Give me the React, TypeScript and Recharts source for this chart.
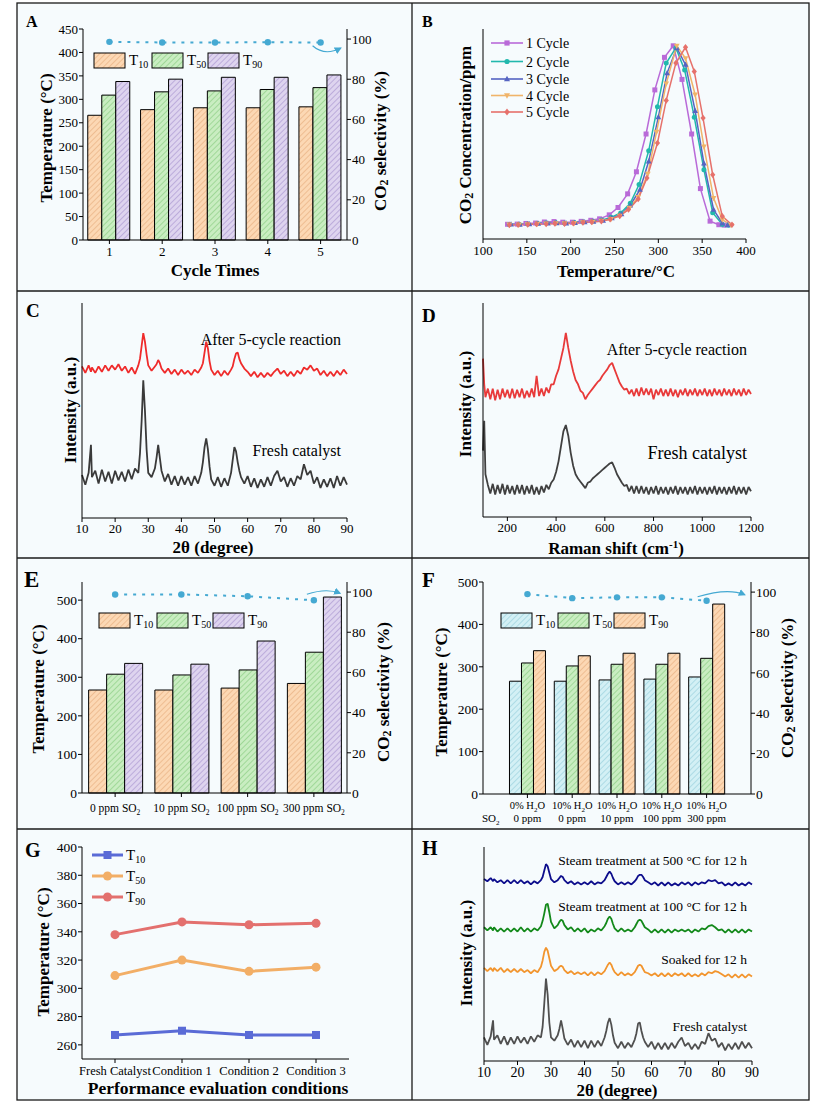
import React from "react";
import { Bar, ComposedChart, Line, LineChart, XAxis, YAxis } from "recharts";

const W = 828;
const H = 1105;
const SERIF = "'Liberation Serif', 'Times New Roman', 'DejaVu Serif', serif";
const INK = "#000";
const SEL = "#45a9d2";
const BG = "#f6fbfd";

// ---------- A: cycle stability ----------
const cycles = ["1", "2", "3", "4", "5"];
const aT10 = [266, 278, 282, 282, 284];
const aT50 = [309, 316, 318, 321, 325];
const aT90 = [338, 343, 347, 347, 352];
const aSel = [98.6, 98.3, 98.3, 98.4, 98.3];
const aTempTicks = [0, 50, 100, 150, 200, 250, 300, 350, 400, 450];
const selTicks = [0, 20, 40, 60, 80, 100];
const tLabels = ["10", "50", "90"];

// ---------- B: CO2 profiles ----------
const bTicks = [100, 150, 200, 250, 300, 350, 400];
const b1T = [128, 139, 149, 160, 170, 181, 191, 202, 212, 223, 233, 244, 254, 265, 275, 286, 296, 307, 317, 327, 338, 348, 359, 369, 375];
const b1V = [7.0, 7.1, 7.4, 7.6, 8.1, 8.3, 8.0, 8.0, 8.4, 8.9, 9.6, 11.5, 15.0, 21.5, 32.0, 50.0, 71.0, 86.5, 92.0, 76.0, 50.0, 24.0, 8.5, 6.8, 6.6];
const b2T = [130, 141, 151, 162, 172, 183, 193, 204, 214, 225, 235, 246, 257, 268, 278, 289, 299, 309, 320, 330, 341, 352, 362, 373, 380];
const b2V = [6.9, 7.0, 7.2, 7.4, 7.6, 7.7, 7.6, 7.8, 8.1, 8.5, 9.0, 10.3, 12.4, 17.0, 25.9, 42.0, 63.0, 83.8, 91.0, 80.5, 58.0, 33.0, 12.5, 6.9, 6.6];
const b3T = [132, 142, 153, 163, 174, 184, 195, 205, 216, 226, 237, 247, 258, 268, 279, 289, 300, 310, 321, 331, 342, 352, 363, 373, 379];
const b3V = [7.0, 6.9, 7.1, 7.3, 7.5, 7.6, 7.5, 7.7, 8.0, 8.3, 8.8, 9.9, 11.8, 16.0, 23.5, 37.0, 58.0, 79.0, 91.0, 83.0, 61.0, 36.0, 14.0, 7.5, 6.6];
const b4T = [130, 141, 151, 162, 172, 183, 193, 204, 214, 225, 235, 246, 256, 267, 277, 288, 298, 309, 321, 331, 342, 352, 363, 373, 383];
const b4V = [6.8, 6.9, 7.0, 7.2, 7.3, 7.5, 7.4, 7.6, 7.9, 8.2, 8.6, 9.5, 11.0, 14.8, 20.0, 31.0, 51.0, 74.0, 92.0, 86.0, 68.7, 44.0, 19.5, 9.2, 6.6];
const b5T = [130, 140, 151, 161, 172, 182, 193, 203, 214, 224, 235, 245, 256, 266, 277, 287, 299, 309, 320, 331, 341, 351, 362, 373, 384];
const b5V = [6.7, 6.8, 6.9, 7.1, 7.2, 7.4, 7.3, 7.5, 7.8, 8.1, 8.5, 9.4, 11.0, 14.0, 19.0, 29.0, 45.7, 66.0, 83.8, 91.3, 79.8, 57.6, 30.6, 10.8, 6.8];
const bNames = ["1 Cycle", "2 Cycle", "3 Cycle", "4 Cycle", "5 Cycle"];

// ---------- C / H: XRD ----------
const xrdTicks = [10, 20, 30, 40, 50, 60, 70, 80, 90];
const xrdAngles = [
  10, 11, 12, 12.7, 13,
  14, 15, 16, 17, 18, 19, 20, 21, 22, 23, 24, 25, 26, 27,
  27.5, 28, 28.5, 29, 29.5,
  30, 31, 32,
  32.5, 33, 33.5,
  34, 35, 36, 37, 38, 39, 40, 41, 42, 43, 44, 45, 46,
  46.5, 47, 47.5, 48, 48.5,
  49, 50, 51, 52, 53, 54, 55,
  55.5, 56, 56.5, 57, 57.5,
  58, 59, 60, 61, 62, 63, 64, 65, 66, 67, 68, 69, 70, 71, 72, 73, 74, 75, 76, 77, 78, 79, 80, 81, 82, 83, 84, 85, 86, 87, 88, 89, 90,
];
const cAfter = [
  70.5, 67.5, 71, 68, 70,
  67.5, 70.5, 68, 71, 68.5, 71, 69, 71.5, 68.5, 70.5, 67.5, 70, 67, 71,
  74, 80, 86, 82, 76,
  71, 68.5, 70.5,
  71.5, 73.5, 72,
  69.5, 67.5, 69.5, 67, 69, 66.5, 69, 67, 68.5, 66.5, 69, 67.5, 70,
  72, 77, 82, 79, 73,
  69, 66.5, 68.5, 66, 68.5, 66.5, 69,
  70.5, 74, 76.5, 77, 74,
  72, 69.5, 68, 66, 68, 65.5, 67.5, 65.5, 67.5, 66, 68, 69.5, 67, 68.5, 66, 68, 66, 68.5, 67, 70, 69, 71, 68.5, 69.5, 66.5, 68.5, 66, 68, 66, 68.5, 66.5, 69, 67,
];
const cFresh = [
  20, 15.5, 21, 34, 19,
  22, 16, 22.5, 17, 21.5, 16, 22, 17.5, 21.5, 17, 22.5, 18, 23, 21,
  30, 45, 64, 50, 32,
  21, 19, 23,
  28, 34, 28,
  22, 17, 20.5, 15.5, 19.5, 15, 19.5, 15.5, 19, 15, 19.5, 16, 21,
  26, 33, 37, 32, 24,
  18, 15, 19, 14.5, 18.5, 15, 21,
  27, 33, 31, 26, 22,
  19, 16, 19.5, 14.5, 18.5, 14, 18, 14.5, 19, 15, 19.5, 22, 17, 19, 14.5, 18.5, 15, 19.5, 18, 25, 20, 22, 16, 19, 14, 18, 14.5, 18.5, 14, 19.5, 15, 19, 15.5,
];
const hSteam500 = [
  85, 84, 85.5, 84, 85,
  83.5, 84.5, 83, 84.5, 83, 84.5, 83, 84.5, 83, 84, 82.5, 84, 83, 84.5,
  86, 89, 92, 91, 88,
  85, 83.5, 84.5,
  85.5, 86.5, 86,
  84.5, 83, 84, 82.5, 83.5, 82.5, 83.5, 82.5, 84, 82.5, 83.5, 83, 84.5,
  86, 87.5, 88.5, 87.5, 85.5,
  84, 82.5, 83.5, 82.5, 83.5, 82.5, 84,
  85, 86.5, 87, 87, 86,
  84.5, 83.5, 82.5, 83.5, 82, 83.5, 82, 83.5, 82, 83, 82, 83.5, 82.5, 83.5, 82, 83.5, 82.5, 83.5, 83, 84.5, 84, 84.5, 83, 83.5, 82, 83, 82, 83.5, 82, 83, 82, 83.5, 82.5,
];
const hSteam100 = [
  62.5, 61, 62.5, 61, 62.5,
  60.5, 62, 60.5, 62, 60.5, 62, 60.5, 62.5, 60.5, 62, 60.5, 62, 61, 63,
  65.5, 69, 73, 73.5, 69.5,
  65, 62, 63.5,
  65, 66, 65.5,
  63.5, 61.5, 62.5, 60.5, 62, 60.5, 62, 60, 61.5, 60.5, 62, 61, 63,
  64.5, 66.5, 67.5, 66.5, 64,
  62, 60.5, 62, 60.5, 61.5, 60.5, 62.5,
  64, 65.5, 66, 65.5, 64,
  62.5, 61.5, 60, 61.5, 60, 61.5, 60, 61.5, 60, 61.5, 60.5, 61.5, 60.5, 61.5, 60, 61.5, 60.5, 62, 61.5, 63, 63.5, 62.5, 61, 61.5, 60, 61.5, 60, 61.5, 60, 61.5, 60, 61.5, 60.5,
];
const hSoaked = [
  43.5, 42, 43.5, 42, 43.5,
  42, 43.5, 41.5, 43, 41.5, 43, 41.5, 43, 41.5, 42.5, 41, 42.5, 41.5, 44,
  47, 51, 53, 51.5, 48,
  44.5, 42, 43,
  44, 44.5, 44,
  42.5, 41, 42, 40.5, 41.5, 40.5, 41.5, 40, 41.5, 40, 41.5, 40.5, 42,
  43.5, 45, 46, 45, 43,
  41.5, 40, 41.5, 40, 41, 40, 41.5,
  43, 44.5, 45, 44.5, 43,
  41.5, 41, 40, 41, 39.5, 41, 39.5, 41, 39.5, 41, 40, 41, 39.5, 41, 39.5, 40.5, 39.5, 41, 40, 41.5, 41, 42, 41.5, 40.5, 39.5, 40.5, 39, 40.5, 39, 40.5, 39, 40.5, 39.5,
];
const hFresh = [
  11, 7.5, 11.5, 19, 10,
  12, 8, 11.5, 7.5, 11, 8, 11.5, 8.5, 11, 8, 11.5, 9, 12, 11,
  16, 27, 38.5, 31, 18,
  11, 9.5, 12,
  15, 19, 15,
  10.5, 7.5, 10, 6.5, 9.5, 6.5, 9.5, 6, 9.5, 6.5, 9.5, 7, 11,
  14, 18, 20, 17, 12,
  8.5, 6, 9, 6, 8.5, 6.5, 10,
  13, 17.5, 18, 14, 11,
  9, 6.5, 9, 5.5, 8.5, 5.5, 8.5, 5.5, 8.5, 6, 9, 11, 7, 8.5, 5.5, 8, 5.5, 9, 8, 13, 9.5, 10.5, 6.5, 8.5, 5, 8, 5.5, 8.5, 5.5, 9, 6, 8.5, 6,
];
const hNames = ["Steam treatment at 500 °C for 12 h", "Steam treatment at 100 °C for 12 h", "Soaked for 12 h", "Fresh catalyst"];

// ---------- D: Raman ----------
const ramanTicks = [200, 400, 600, 800, 1000, 1200];
const ramanShift = [
  100, 105, 110,
  120, 130, 140, 150, 160, 170, 180, 190, 200,
  210, 220, 230, 240, 250, 260, 270, 280, 290, 300,
  310, 320, 330, 340, 350, 360, 370, 380, 390, 400,
  410, 420, 430, 440, 450, 460, 470, 480, 490, 500,
  510, 520, 530, 540, 550, 560, 570, 580, 590, 600,
  610, 620, 630, 640, 650, 660, 670, 680, 690, 700,
  710, 720, 730, 740, 750, 760, 770, 780, 790, 800,
  810, 820, 830, 840, 850, 860, 870, 880, 890, 900,
  910, 920, 930, 940, 950, 960, 970, 980, 990, 1000,
  1010, 1020, 1030, 1040, 1050, 1060, 1070, 1080, 1090, 1100,
  1110, 1120, 1130, 1140, 1150, 1160, 1170, 1180, 1190, 1200,
];
const dAfter = [
  74, 62, 56,
  60, 55, 60, 54.5, 59.5, 55, 60, 56, 59.5,
  55.5, 60, 55.5, 59.5, 56, 60, 55.5, 59, 56, 60,
  56, 66, 56.5, 60, 56.5, 60.5, 58, 62, 62, 66,
  69, 74, 79, 86, 79, 73, 68, 64, 62, 59,
  58, 55, 57, 58.5, 60, 61.5, 63, 64, 66, 67.5,
  69, 71, 72, 69, 66, 63, 61, 59.5, 60, 57.5,
  59.5, 56.5, 60, 56.5, 60.5, 57, 60, 57, 60, 55,
  59.5, 57, 60, 56.5, 59.5, 56.5, 60, 56.5, 59.5, 56,
  59.5, 57, 60, 56.5, 59.5, 57, 60, 56.5, 59.5, 57,
  60, 56.5, 59.5, 56.5, 60, 57, 59.5, 56.5, 60, 57,
  59.5, 56.5, 60, 57, 59.5, 56.5, 60, 57, 59.5, 57.5,
];
const dFresh = [
  31, 45, 20,
  15, 11, 15.5, 10.5, 15, 11, 15.5, 10.5, 15,
  11, 14.5, 10.5, 15, 11, 15, 10.5, 14.5, 11, 15,
  10.5, 14, 10.5, 14.5, 11.5, 15, 13, 16, 17.5, 21,
  26, 33, 40, 43, 38, 30, 24, 20, 18, 16.5,
  15, 13.5, 16, 16.5, 18, 19, 20, 21, 22, 23,
  24, 25, 25.5, 23, 20, 18, 16, 14.5, 15, 12,
  14.5, 11, 14.5, 11, 14.5, 11, 14, 10.5, 14, 11,
  14.5, 10.5, 14, 11, 14, 10.5, 14, 11, 14.5, 10.5,
  14, 11, 14, 10.5, 14, 11, 14.5, 10.5, 14, 11,
  14, 10.5, 14, 11, 14.5, 10.5, 14, 11, 14, 10.5,
  14, 11, 14.5, 10.5, 14, 11, 14, 10.5, 14, 12,
];

// ---------- E: SO2 ----------
const eLevels = ["0 ppm", "10 ppm", "100 ppm", "300 ppm"];
const eT10 = [267, 267, 272, 284];
const eT50 = [308, 306, 319, 365];
const eT90 = [336, 334, 394, 508];
const eSel = [98.8, 98.8, 97.9, 95.9];
const eTempTicks = [0, 100, 200, 300, 400, 500];

// ---------- F: H2O + SO2 ----------
const fWater = ["0%", "10%", "10%", "10%", "10%"];
const fSO2 = ["0 ppm", "0 ppm", "10 ppm", "100 ppm", "300 ppm"];
const fT10 = [266, 266, 269, 271, 276];
const fT50 = [309, 302, 306, 306, 320];
const fT90 = [338, 326, 332, 332, 448];
const fSel = [99.0, 97.0, 97.4, 97.4, 95.7];

// ---------- G: conditions ----------
const gConds = ["Fresh Catalyst", "Condition 1", "Condition 2", "Condition 3"];
const gT10 = [267, 270, 267, 267];
const gT50 = [309, 320, 312, 315];
const gT90 = [338, 347, 345, 346];
const gTicks = [260, 280, 300, 320, 340, 360, 380, 400];

// ---------- helpers ----------
type Rect = { l: number; r: number; t: number; b: number };
const mg = (p: Rect, lw: number, rw: number, bh: number) => ({
  top: p.t,
  left: p.l - lw,
  right: W - p.r - rw,
  bottom: H - p.b - bh,
});
const tk = { fill: INK, fontSize: 13, fontFamily: SERIF };
const ax = { stroke: INK, strokeWidth: 1 };

function Marker({ shape, cx, cy, color, s }: { shape: string; cx: number; cy: number; color: string; s: number }) {
  if (shape === "square") return <rect x={cx - s} y={cy - s} width={s * 2} height={s * 2} fill={color} />;
  if (shape === "up")
    return <path d={`M${cx},${cy - s * 1.25}L${cx + s * 1.15},${cy + s * 0.85}L${cx - s * 1.15},${cy + s * 0.85}Z`} fill={color} />;
  if (shape === "down")
    return <path d={`M${cx},${cy + s * 1.25}L${cx + s * 1.15},${cy - s * 0.85}L${cx - s * 1.15},${cy - s * 0.85}Z`} fill={color} />;
  if (shape === "diamond")
    return <path d={`M${cx},${cy - s * 1.3}L${cx + s * 1.05},${cy}L${cx},${cy + s * 1.3}L${cx - s * 1.05},${cy}Z`} fill={color} />;
  return <circle cx={cx} cy={cy} r={s} fill={color} />;
}

const dotOf = (shape: string, color: string, s: number) => (p: any) => (
  <g key={`d${p.index}`}>{p.cx != null && <Marker shape={shape} cx={p.cx} cy={p.cy} color={color} s={s} />}</g>
);

// selectivity dots, the last one gets the curved arrow pointing at the right axis
const selDot = (last: number, arc: number[]) => (p: any) => {
  const { cx, cy, index } = p;
  const [sx, sy, qx, qy, ex, ey] = arc;
  return (
    <g key={`s${index}`}>
      <circle cx={cx} cy={cy} r={3.2} fill={SEL} />
      {index === last && (
        <path
          d={`M${cx + sx},${cy + sy}Q${cx + qx},${cy + qy} ${cx + ex},${cy + ey}`}
          fill="none"
          stroke={SEL}
          strokeWidth={1.2}
          markerEnd="url(#selArrow)"
        />
      )}
    </g>
  );
};

const Hatch = ({ id, bg, line }: { id: string; bg: string; line: string }) => (
  <pattern id={id} patternUnits="userSpaceOnUse" width={4} height={4} patternTransform="rotate(45)">
    <rect width={4} height={4} fill={bg} />
    <line x1={0} y1={0} x2={0} y2={4} stroke={line} strokeWidth={1.4} />
  </pattern>
);

const Layer = ({ children }: { children: React.ReactNode }) => (
  <div style={{ position: "absolute", left: 0, top: 0 }}>{children}</div>
);

// ---------- panels ----------
const A_PLOT = { l: 83, r: 347, t: 29, b: 240 };
const aRows = cycles.map((c, i) => ({ cycle: c, t10: aT10[i], t50: aT50[i], t90: aT90[i], sel: aSel[i] }));

function PanelA() {
  return (
    <ComposedChart width={W} height={H} data={aRows} margin={mg(A_PLOT, 40, 40, 30)} barCategoryGap="9%" barGap={0}>
      <XAxis dataKey="cycle" interval={0} tick={tk} tickSize={4} tickMargin={3} tickLine={ax} axisLine={ax} height={30} />
      <XAxis xAxisId="top" orientation="top" dataKey="cycle" height={0} tick={false} tickLine={false} axisLine={ax} />
      <YAxis yAxisId="t" domain={[0, 450]} ticks={aTempTicks} interval={0} width={40} tick={tk} tickSize={4} tickMargin={1} tickLine={ax} axisLine={ax} />
      <YAxis yAxisId="s" orientation="right" domain={[0, 105]} ticks={selTicks} interval={0} width={40} tick={tk} tickSize={4} tickMargin={1} tickLine={ax} axisLine={ax} />
      <Bar yAxisId="t" dataKey="t10" fill="url(#hOr)" stroke={INK} strokeWidth={1} isAnimationActive={false} />
      <Bar yAxisId="t" dataKey="t50" fill="url(#hGr)" stroke={INK} strokeWidth={1} isAnimationActive={false} />
      <Bar yAxisId="t" dataKey="t90" fill="url(#hPu)" stroke={INK} strokeWidth={1} isAnimationActive={false} />
      <Line yAxisId="s" dataKey="sel" stroke={SEL} strokeWidth={2} strokeDasharray="3 6" dot={selDot(4, [-8, 3.3, 4, 14, 20, 5.6])} isAnimationActive={false} />
    </ComposedChart>
  );
}

const B_PLOT = { l: 483, r: 746, t: 29, b: 239 };
const bSeries = [
  { name: bNames[0], color: "#b96ad8", shape: "square", rows: b1T.map((t, i) => ({ t, v: b1V[i] })) },
  { name: bNames[1], color: "#22b8ad", shape: "circle", rows: b2T.map((t, i) => ({ t, v: b2V[i] })) },
  { name: bNames[2], color: "#5664c2", shape: "up", rows: b3T.map((t, i) => ({ t, v: b3V[i] })) },
  { name: bNames[3], color: "#f0b46a", shape: "down", rows: b4T.map((t, i) => ({ t, v: b4V[i] })) },
  { name: bNames[4], color: "#e6716b", shape: "diamond", rows: b5T.map((t, i) => ({ t, v: b5V[i] })) },
];

function PanelB() {
  return (
    <LineChart width={W} height={H} margin={mg(B_PLOT, 10, 0, 30)}>
      <XAxis type="number" dataKey="t" domain={[100, 400]} ticks={bTicks} interval={0} tick={tk} tickSize={4} tickMargin={3} tickLine={ax} axisLine={ax} height={30} />
      <XAxis xAxisId="top" orientation="top" type="number" dataKey="t" domain={[100, 400]} height={0} tick={false} tickLine={false} axisLine={ax} />
      <YAxis domain={[0, 100]} width={10} tick={false} tickLine={false} axisLine={ax} />
      <YAxis yAxisId="frame" orientation="right" domain={[0, 1]} width={0} tick={false} tickLine={false} axisLine={ax} />
      {bSeries.map((s) => (
        <Line key={s.name} data={s.rows} dataKey="v" stroke={s.color} strokeWidth={1.5} dot={dotOf(s.shape, s.color, 2.5)} isAnimationActive={false} />
      ))}
    </LineChart>
  );
}

const C_PLOT = { l: 82, r: 347, t: 303, b: 518 };
const cRows = xrdAngles.map((a, i) => ({ a, after: cAfter[i], fresh: cFresh[i] }));

function PanelC() {
  return (
    <LineChart width={W} height={H} data={cRows} margin={mg(C_PLOT, 10, 0, 30)}>
      <XAxis type="number" dataKey="a" domain={[10, 90]} ticks={xrdTicks} interval={0} tick={tk} tickSize={4} tickMargin={2} tickLine={ax} axisLine={ax} height={30} />
      <XAxis xAxisId="top" orientation="top" type="number" dataKey="a" domain={[10, 90]} height={0} tick={false} tickLine={false} axisLine={ax} />
      <YAxis domain={[0, 100]} width={10} tick={false} tickLine={false} axisLine={ax} />
      <YAxis yAxisId="frame" orientation="right" domain={[0, 1]} width={0} tick={false} tickLine={false} axisLine={ax} />
      <Line dataKey="after" stroke="#ef2b2b" strokeWidth={1.8} strokeLinejoin="bevel" dot={false} isAnimationActive={false} />
      <Line dataKey="fresh" stroke="#3a3a3a" strokeWidth={1.8} strokeLinejoin="bevel" dot={false} isAnimationActive={false} />
    </LineChart>
  );
}

const D_PLOT = { l: 483, r: 751, t: 303, b: 517 };
const dRows = ramanShift.map((w, i) => ({ w, after: dAfter[i], fresh: dFresh[i] }));

function PanelD() {
  return (
    <LineChart width={W} height={H} data={dRows} margin={mg(D_PLOT, 10, 0, 30)}>
      <XAxis type="number" dataKey="w" domain={[100, 1200]} ticks={ramanTicks} interval={0} tick={tk} tickSize={4} tickMargin={2} tickLine={ax} axisLine={ax} height={30} />
      <XAxis xAxisId="top" orientation="top" type="number" dataKey="w" domain={[100, 1200]} height={0} tick={false} tickLine={false} axisLine={ax} />
      <YAxis domain={[0, 100]} width={10} tick={false} tickLine={false} axisLine={ax} />
      <YAxis yAxisId="frame" orientation="right" domain={[0, 1]} width={0} tick={false} tickLine={false} axisLine={ax} />
      <Line dataKey="after" stroke="#e83a3a" strokeWidth={1.8} strokeLinejoin="bevel" dot={false} isAnimationActive={false} />
      <Line dataKey="fresh" stroke="#404040" strokeWidth={1.8} strokeLinejoin="bevel" dot={false} isAnimationActive={false} />
    </LineChart>
  );
}

const E_PLOT = { l: 82, r: 347, t: 582, b: 793 };
const eRows = eLevels.map((c, i) => ({ lvl: c, t10: eT10[i], t50: eT50[i], t90: eT90[i], sel: eSel[i] }));

const ETick = (p: any) => (
  <text x={p.x} y={p.y + 13} textAnchor="middle" fontFamily={SERIF} fontSize={11.5} fill={INK}>
    {p.payload.value} SO<tspan dy={3} fontSize={7.5}>2</tspan>
  </text>
);

function PanelE() {
  return (
    <ComposedChart width={W} height={H} data={eRows} margin={mg(E_PLOT, 40, 40, 30)} barCategoryGap="10%" barGap={0}>
      <XAxis dataKey="lvl" interval={0} tick={<ETick />} tickSize={4} tickMargin={2} tickLine={ax} axisLine={ax} height={30} />
      <XAxis xAxisId="top" orientation="top" dataKey="lvl" height={0} tick={false} tickLine={false} axisLine={ax} />
      <YAxis yAxisId="t" domain={[0, 547]} ticks={eTempTicks} interval={0} width={40} tick={{ ...tk, fontSize: 13.5 }} tickSize={4} tickMargin={1} tickLine={ax} axisLine={ax} />
      <YAxis yAxisId="s" orientation="right" domain={[0, 105]} ticks={selTicks} interval={0} width={40} tick={{ ...tk, fontSize: 13.5 }} tickSize={4} tickMargin={1} tickLine={ax} axisLine={ax} />
      <Bar yAxisId="t" dataKey="t10" fill="url(#hOr)" stroke={INK} strokeWidth={1} isAnimationActive={false} />
      <Bar yAxisId="t" dataKey="t50" fill="url(#hGr)" stroke={INK} strokeWidth={1} isAnimationActive={false} />
      <Bar yAxisId="t" dataKey="t90" fill="url(#hPu)" stroke={INK} strokeWidth={1} isAnimationActive={false} />
      <Line yAxisId="s" dataKey="sel" stroke={SEL} strokeWidth={2} strokeDasharray="3 6" dot={selDot(3, [-7, -6, 12.8, -12.5, 26, -7])} isAnimationActive={false} />
    </ComposedChart>
  );
}

const F_PLOT = { l: 483, r: 751, t: 582, b: 794 };
const fRows = fWater.map((w, i) => ({ cond: `${w}|${fSO2[i]}`, t10: fT10[i], t50: fT50[i], t90: fT90[i], sel: fSel[i] }));

const FTick = (p: any) => (
  <g>
    <text x={p.x} y={p.y + 9} textAnchor="middle" fontFamily={SERIF} fontSize={10.5} fill={INK}>
      {fWater[p.index]} H<tspan dy={2.5} fontSize={7}>2</tspan>
      <tspan dy={-2.5}>O</tspan>
    </text>
    <text x={p.x} y={p.y + 22} textAnchor="middle" fontFamily={SERIF} fontSize={11} fill={INK}>
      {fSO2[p.index]}
    </text>
  </g>
);

function PanelF() {
  return (
    <ComposedChart width={W} height={H} data={fRows} margin={mg(F_PLOT, 40, 40, 30)} barCategoryGap="10%" barGap={0}>
      <XAxis dataKey="cond" interval={0} padding={{ left: 22, right: 22 }} tick={<FTick />} tickSize={4} tickMargin={2} tickLine={ax} axisLine={ax} height={30} />
      <XAxis xAxisId="top" orientation="top" dataKey="cond" padding={{ left: 22, right: 22 }} height={0} tick={false} tickLine={false} axisLine={ax} />
      <YAxis yAxisId="t" domain={[0, 500]} ticks={eTempTicks} interval={0} width={40} tick={{ ...tk, fontSize: 13.5 }} tickSize={4} tickMargin={1} tickLine={ax} axisLine={ax} />
      <YAxis yAxisId="s" orientation="right" domain={[0, 105]} ticks={selTicks} interval={0} width={40} tick={{ ...tk, fontSize: 13.5 }} tickSize={4} tickMargin={1} tickLine={ax} axisLine={ax} />
      <Bar yAxisId="t" dataKey="t10" fill="url(#hBl)" stroke={INK} strokeWidth={1} isAnimationActive={false} />
      <Bar yAxisId="t" dataKey="t50" fill="url(#hGr)" stroke={INK} strokeWidth={1} isAnimationActive={false} />
      <Bar yAxisId="t" dataKey="t90" fill="url(#hOr)" stroke={INK} strokeWidth={1} isAnimationActive={false} />
      <Line yAxisId="s" dataKey="sel" stroke={SEL} strokeWidth={2} strokeDasharray="3 6" dot={selDot(4, [-9, -4, 21.5, -13.3, 38, -6])} isAnimationActive={false} />
    </ComposedChart>
  );
}

const G_PLOT = { l: 82, r: 349, t: 847, b: 1059 };
const gRows = gConds.map((c, i) => ({ cond: c, t10: gT10[i], t50: gT50[i], t90: gT90[i] }));
const gSeries = [
  { key: "t10", label: tLabels[0], color: "#5a6bd6", shape: "square", s: 4 },
  { key: "t50", label: tLabels[1], color: "#f2ae66", shape: "circle", s: 4.5 },
  { key: "t90", label: tLabels[2], color: "#e3706e", shape: "circle", s: 4.5 },
];

function PanelG() {
  return (
    <LineChart width={W} height={H} data={gRows} margin={mg(G_PLOT, 40, 0, 30)}>
      <XAxis dataKey="cond" interval={0} padding={{ left: 33, right: 33 }} tick={{ ...tk, fontSize: 12.5 }} tickSize={4} tickMargin={3} tickLine={ax} axisLine={ax} height={30} />
      <XAxis xAxisId="top" orientation="top" dataKey="cond" padding={{ left: 33, right: 33 }} height={0} tick={false} tickLine={false} axisLine={ax} />
      <YAxis domain={[250, 400]} ticks={gTicks} interval={0} width={40} tick={{ ...tk, fontSize: 13.5 }} tickSize={4} tickMargin={1} tickLine={ax} axisLine={ax} />
      <YAxis yAxisId="frame" orientation="right" domain={[0, 1]} width={0} tick={false} tickLine={false} axisLine={ax} />
      {gSeries.map((s) => (
        <Line key={s.key} dataKey={s.key} stroke={s.color} strokeWidth={3} dot={dotOf(s.shape, s.color, s.s)} isAnimationActive={false} />
      ))}
    </LineChart>
  );
}

const H_PLOT = { l: 484, r: 752, t: 847, b: 1061 };
const hRows = xrdAngles.map((a, i) => ({ a, s500: hSteam500[i], s100: hSteam100[i], soak: hSoaked[i], fresh: hFresh[i] }));

function PanelH() {
  return (
    <LineChart width={W} height={H} data={hRows} margin={mg(H_PLOT, 10, 0, 30)}>
      <XAxis type="number" dataKey="a" domain={[10, 90]} ticks={xrdTicks} interval={0} tick={{ ...tk, fontSize: 14 }} tickSize={4} tickMargin={2} tickLine={ax} axisLine={ax} height={30} />
      <XAxis xAxisId="top" orientation="top" type="number" dataKey="a" domain={[10, 90]} height={0} tick={false} tickLine={false} axisLine={ax} />
      <YAxis domain={[0, 100]} width={10} tick={false} tickLine={false} axisLine={ax} />
      <YAxis yAxisId="frame" orientation="right" domain={[0, 1]} width={0} tick={false} tickLine={false} axisLine={ax} />
      <Line dataKey="s500" stroke="#0d0d8c" strokeWidth={1.8} strokeLinejoin="bevel" dot={false} isAnimationActive={false} />
      <Line dataKey="s100" stroke="#13891a" strokeWidth={1.8} strokeLinejoin="bevel" dot={false} isAnimationActive={false} />
      <Line dataKey="soak" stroke="#f2952e" strokeWidth={1.8} strokeLinejoin="bevel" dot={false} isAnimationActive={false} />
      <Line dataKey="fresh" stroke="#505050" strokeWidth={1.8} strokeLinejoin="bevel" dot={false} isAnimationActive={false} />
    </LineChart>
  );
}

// ---------- text overlay ----------
function VTitle({ x, y, children }: { x: number; y: number; children: React.ReactNode }) {
  return (
    <text x={x} y={y} transform={`rotate(-90 ${x} ${y})`} textAnchor="middle" dominantBaseline="central" fontWeight="bold" fontSize={17}>
      {children}
    </text>
  );
}
function HTitle({ x, y, children, size = 17 }: { x: number; y: number; children: React.ReactNode; size?: number }) {
  return (
    <text x={x} y={y} textAnchor="middle" fontWeight="bold" fontSize={size}>
      {children}
    </text>
  );
}
const CO2Sel = () => (
  <>
    CO<tspan dy={4} fontSize={12}>2</tspan>
    <tspan dy={-4}> selectivity (%)</tspan>
  </>
);

function BarLegend({ xs, y, fills }: { xs: number[]; y: number; fills: string[] }) {
  return (
    <g>
      {tLabels.map((lab, i) => (
        <g key={lab}>
          <rect x={xs[i]} y={y} width={31} height={15} fill={fills[i]} stroke={INK} strokeWidth={1} />
          <text x={xs[i] + 35} y={y + 12} fontSize={15}>
            T<tspan dy={3} fontSize={10}>{lab}</tspan>
          </text>
        </g>
      ))}
    </g>
  );
}

const letters: [string, number, number, number][] = [
  ["A", 26, 27, 16],
  ["B", 422, 27, 16],
  ["C", 26, 317, 19],
  ["D", 422, 322, 19],
  ["E", 24, 587, 23],
  ["F", 422, 587, 21],
  ["G", 25, 857, 20],
  ["H", 422, 855, 20],
];
const bLegY = [43, 61.5, 79, 95.5, 112];
const gLegY = [855, 876, 897];
const hLabelY = [865, 911, 964, 1031];

function Overlay() {
  return (
    <svg width={W} height={H} style={{ position: "absolute", left: 0, top: 0 }} fontFamily={SERIF} fill={INK}>
      <rect x={17} y={3} width={792} height={1097} fill="none" stroke="#1a1a1a" strokeWidth={1.3} />
      <line x1={412} y1={3} x2={412} y2={1100} stroke="#1a1a1a" strokeWidth={1.3} />
      {[291, 558, 829].map((y) => (
        <line key={y} x1={17} x2={809} y1={y} y2={y} stroke="#1a1a1a" strokeWidth={1.3} />
      ))}
      {letters.map(([l, x, y, s]) => (
        <text key={l} x={x} y={y} fontSize={s} fontWeight="bold">
          {l}
        </text>
      ))}

      {/* A */}
      <VTitle x={46} y={138}>Temperature (°C)</VTitle>
      <VTitle x={380} y={141}>
        <CO2Sel />
      </VTitle>
      <HTitle x={215} y={276}>Cycle Times</HTitle>
      <BarLegend xs={[94, 152, 208]} y={53} fills={["url(#hOr)", "url(#hGr)", "url(#hPu)"]} />

      {/* B */}
      <VTitle x={465} y={135}>
        CO<tspan dy={4} fontSize={12}>2</tspan>
        <tspan dy={-4}> Concentration/ppm</tspan>
      </VTitle>
      <HTitle x={616} y={277}>Temperature/°C</HTitle>
      {bSeries.map((s, i) => (
        <g key={s.name}>
          <line x1={491} x2={523} y1={bLegY[i]} y2={bLegY[i]} stroke={s.color} strokeWidth={1.6} />
          <Marker shape={s.shape} cx={507} cy={bLegY[i]} color={s.color} s={2.6} />
          <text x={526} y={bLegY[i] + 5} fontSize={14}>
            {s.name}
          </text>
        </g>
      ))}

      {/* C */}
      <VTitle x={70} y={410}>Intensity (a.u.)</VTitle>
      <HTitle x={213} y={553}>2θ (degree)</HTitle>
      <text x={341} y={345} fontSize={16} textAnchor="end">After 5-cycle reaction</text>
      <text x={341} y={456} fontSize={16} textAnchor="end">Fresh catalyst</text>

      {/* D */}
      <VTitle x={465} y={404}>Intensity (a.u.)</VTitle>
      <HTitle x={616} y={554}>
        Raman shift (cm<tspan dy={-6} fontSize={11}>-1</tspan>
        <tspan dy={6}>)</tspan>
      </HTitle>
      <text x={747} y={355} fontSize={16} textAnchor="end">After 5-cycle reaction</text>
      <text x={747} y={459} fontSize={18} textAnchor="end">Fresh catalyst</text>

      {/* E */}
      <VTitle x={38} y={689}>Temperature (°C)</VTitle>
      <VTitle x={383} y={692}>
        <CO2Sel />
      </VTitle>
      <BarLegend xs={[99, 157, 213]} y={613} fills={["url(#hOr)", "url(#hGr)", "url(#hPu)"]} />

      {/* F */}
      <VTitle x={441} y={692}>Temperature (°C)</VTitle>
      <VTitle x={787} y={688}>
        <CO2Sel />
      </VTitle>
      <BarLegend xs={[501, 558, 614]} y={613} fills={["url(#hBl)", "url(#hGr)", "url(#hOr)"]} />
      <text x={482} y={822} fontSize={11}>
        SO<tspan dy={2.5} fontSize={7}>2</tspan>
      </text>

      {/* G */}
      <VTitle x={43} y={952}>Temperature (°C)</VTitle>
      <HTitle x={218} y={1094} size={17.5}>Performance evaluation conditions</HTitle>
      {gSeries.map((s, i) => (
        <g key={s.key}>
          <line x1={92} x2={123} y1={gLegY[i]} y2={gLegY[i]} stroke={s.color} strokeWidth={3} />
          <Marker shape={s.shape} cx={107.5} cy={gLegY[i]} color={s.color} s={s.s} />
          <text x={126} y={gLegY[i] + 5} fontSize={15}>
            T<tspan dy={3} fontSize={10}>{s.label}</tspan>
          </text>
        </g>
      ))}

      {/* H */}
      <VTitle x={466} y={953}>Intensity (a.u.)</VTitle>
      <HTitle x={617} y={1096}>2θ (degree)</HTitle>
      {hNames.map((n, i) => (
        <text key={n} x={747} y={hLabelY[i]} fontSize={13.5} textAnchor="end">
          {n}
        </text>
      ))}
    </svg>
  );
}

export default function App() {
  return (
    <div style={{ position: "absolute", left: 0, top: 0, width: W, height: H, background: "#fff", overflow: "hidden" }}>
      <svg width={0} height={0} style={{ position: "absolute" }}>
        <defs>
          <Hatch id="hOr" bg="#fcd8b4" line="#e9b283" />
          <Hatch id="hGr" bg="#c9edc1" line="#8fcf87" />
          <Hatch id="hPu" bg="#ded4ef" line="#ad9bd3" />
          <Hatch id="hBl" bg="#d3f0f5" line="#9dd2de" />
          <marker id="selArrow" viewBox="0 0 10 10" refX="8" refY="5" markerWidth="6" markerHeight="6" orient="auto">
            <path d="M0,0L10,5L0,10z" fill={SEL} />
          </marker>
        </defs>
      </svg>
      <div style={{ position: "absolute", left: 17, top: 3, width: 792, height: 1097, background: BG }} />
      <Layer><PanelA /></Layer>
      <Layer><PanelB /></Layer>
      <Layer><PanelC /></Layer>
      <Layer><PanelD /></Layer>
      <Layer><PanelE /></Layer>
      <Layer><PanelF /></Layer>
      <Layer><PanelG /></Layer>
      <Layer><PanelH /></Layer>
      <Overlay />
    </div>
  );
}
